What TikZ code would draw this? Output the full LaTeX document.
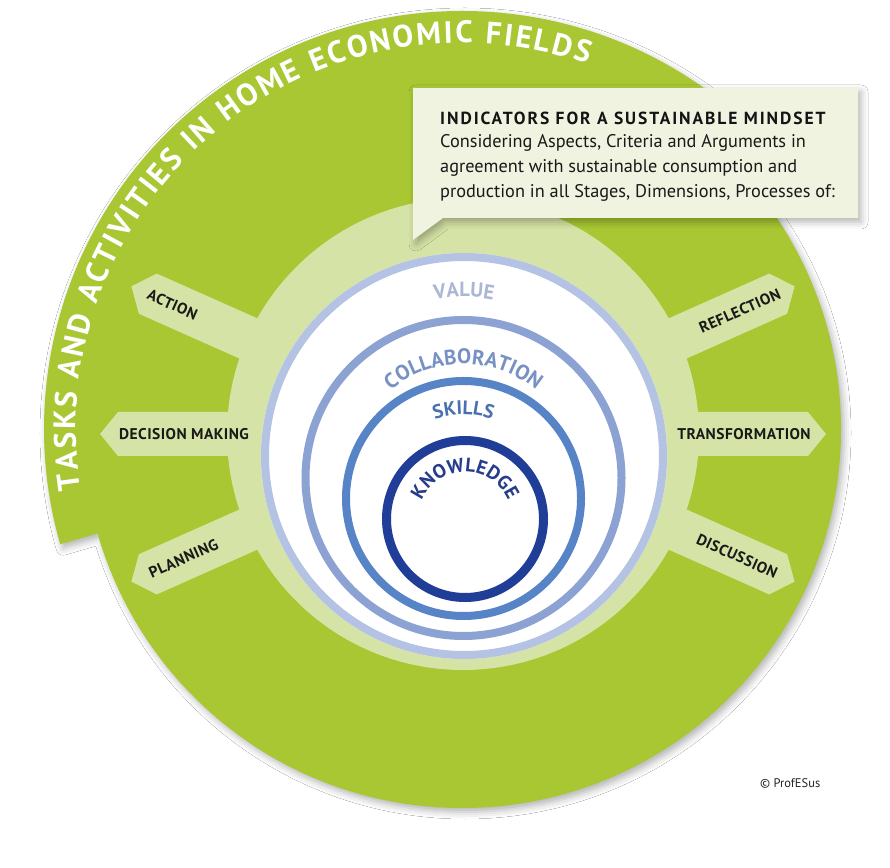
\documentclass[tikz,border=0pt]{standalone}
\usepackage{fontspec}
\setmainfont{PT Sans}
\newfontfamily\headfont[LetterSpace=11]{PT Sans}
\newfontfamily\spokefont[LetterSpace=3]{PT Sans}
\usetikzlibrary{decorations.text,shadows.blur}
\definecolor{leaf}{RGB}{168,199,50}
\definecolor{hubgreen}{RGB}{214,227,166}
\definecolor{calloutfill}{RGB}{239,243,224}
\definecolor{valblue}{RGB}{180,194,228}
\definecolor{colblue}{RGB}{139,162,211}
\definecolor{skiblue}{RGB}{86,132,198}
\definecolor{knoblue}{RGB}{32,62,152}
\definecolor{valtext}{RGB}{172,183,214}
\definecolor{coltext}{RGB}{120,145,196}
\definecolor{skitext}{RGB}{74,112,175}
\definecolor{knotext}{RGB}{38,60,140}
\definecolor{labelink}{RGB}{25,25,25}
\begin{document}
\begin{tikzpicture}[x=1pt,y=1pt,
  spokeshape/.style={fill=hubgreen},
  spokelabel/.style={font=\spokefont\bfseries\fontsize{15.5}{16}\selectfont, text=labelink, inner sep=0pt},
  bodyline/.style={anchor=base west, inner sep=0pt, font=\fontsize{18.3}{22}\selectfont, text=black!90},
  ringtext/.style={decorate, decoration={text along path, text align=center}},
  softshadow/.style={blur shadow={shadow xshift=3pt, shadow yshift=-4pt, shadow blur radius=7pt, shadow opacity=30}}
]
\fill[white] (0,0) rectangle (890,867);
\useasboundingbox (0,0) rectangle (890,867);

% main green disc with title tab
\begin{scope}[shift={(462,438)}]
  \fill[leaf, softshadow] (0,0) circle[radius=379]
    (45:418) arc[start angle=45, end angle=196, radius=418]
    -- (196:360) arc[start angle=196, end angle=45, radius=360] -- cycle;
  \path[decorate, decoration={text along path,
      text={|\color{white}\bfseries\fontsize{31}{31}\selectfont|TASKS AND ACTIVITIES IN HOME ECONOMIC FIELDS},
      text align=fit to path}]
    (189:386) arc[start angle=189, end angle=71, radius=386];
\end{scope}

% light green hub with spokes
\begin{scope}[shift={(463,433)}]
  \fill[hubgreen] (0,0) circle[radius=236];
  \foreach \a in {24,0,-24,156,180,204}{
    \fill[spokeshape, rotate=\a] (0,-22) -- (345,-22) -- (363,0) -- (345,22) -- (0,22) -- cycle;
  }
  \node[spokelabel, rotate=-24] (action) at (156:318) {ACTION};
  \node[spokelabel] (decision) at (180:279) {DECISION MAKING};
  \node[spokelabel, rotate=24] (planning) at (204:306) {PLANNING};
  \node[spokelabel, rotate=24] (reflection) at (24:303) {REFLECTION};
  \node[spokelabel] (transformation) at (0:281) {TRANSFORMATION};
  \node[spokelabel, rotate=-24] (discussion) at (-24:300) {DISCUSSION};
\end{scope}

% nested rings
\begin{scope}[shift={(464,411)}]
  \fill[white] (0,0) circle[radius=203];
  \draw[valblue, line width=8] (0,0) circle[radius=199];
  \path[ringtext, decoration={text={|\color{valtext}\bfseries\fontsize{20.5}{21}\selectfont|VALUE}}]
    (105:159) arc[start angle=105, end angle=75, radius=159];
\end{scope}
\begin{scope}[shift={(463.5,389)}]
  \draw[colblue, line width=8] (0,0) circle[radius=158];
  \path[ringtext, decoration={text={|\color{coltext}\bfseries\fontsize{21}{21}\selectfont|COLLABORATION}}]
    (150:114) arc[start angle=150, end angle=30, radius=114];
\end{scope}
\begin{scope}[shift={(463.5,368.5)}]
  \draw[skiblue, line width=8] (0,0) circle[radius=117.5];
  \path[ringtext, decoration={text={|\color{skitext}\bfseries\fontsize{19.5}{20}\selectfont|SKILLS}}]
    (120:84) arc[start angle=120, end angle=60, radius=84];
\end{scope}
\begin{scope}[shift={(465,348)}]
  \draw[knoblue, line width=9] (0,0) circle[radius=78.5];
  \path[ringtext, decoration={text={|\color{knotext}\bfseries\fontsize{19.5}{20}\selectfont|KNOWLEDGE}}]
    (180:47) arc[start angle=180, end angle=0, radius=47];
\end{scope}

% callout
\fill[calloutfill, softshadow] (413,779) -- (858,779) -- (858,649) -- (443,649) -- (413,627) -- cycle;
\node[anchor=base west, inner sep=0pt, font=\headfont\bfseries\fontsize{17.5}{20}\selectfont, text=black!92] (heading) at (440,742) {INDICATORS FOR A SUSTAINABLE MINDSET};
\node[bodyline] (line1) at (440,719) {Considering Aspects, Criteria and Arguments in};
\node[bodyline] (line2) at (440,694) {agreement with sustainable consumption and};
\node[bodyline] (line3) at (440,669) {production in all Stages, Dimensions, Processes of:};

% copyright
\node[anchor=base west, inner sep=0pt, font=\fontsize{12.5}{13}\selectfont, text=black!85] (copyright) at (760,80) {© ProfESus};
\end{tikzpicture}
\end{document}
